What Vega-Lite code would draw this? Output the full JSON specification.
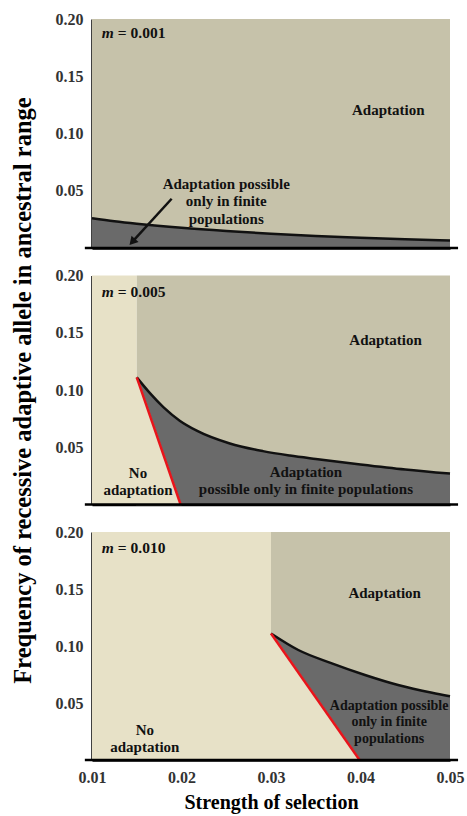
{
  "$schema": "https://vega.github.io/schema/vega-lite/v6.json",
  "background": "white",
  "padding": {"left": 9, "top": 11, "right": 10, "bottom": 5},
  "spacing": 27.5,
  "bounds": "flush",
  "config": {
    "view": {"stroke": null},
    "font": "Liberation Serif",
    "axis": {"domainColor": "black", "domainWidth": 2.5, "ticks": false, "grid": false, "labelFlush": false, "labelFont": "Liberation Serif", "labelFontWeight": "bold", "labelFontSize": 16, "labelColor": "#333333", "titleFont": "Liberation Serif", "titleFontWeight": "bold", "titleFontSize": 20, "titleColor": "black"},
    "text": {"font": "Liberation Serif", "fontWeight": "bold", "fontSize": 15, "color": "#111111"}
  },
  "datasets": {
    "rects": [
      {"panel": 1, "region": "adapt", "x1": 0.01, "x2": 0.05, "y1": 0, "y2": 0.2},
      {"panel": 2, "region": "none", "x1": 0.01, "x2": 0.015, "y1": 0, "y2": 0.2},
      {"panel": 2, "region": "adapt", "x1": 0.015, "x2": 0.05, "y1": 0, "y2": 0.2},
      {"panel": 3, "region": "none", "x1": 0.01, "x2": 0.03, "y1": 0, "y2": 0.2},
      {"panel": 3, "region": "adapt", "x1": 0.03, "x2": 0.05, "y1": 0, "y2": 0.2}
    ],
    "baseline": [
      {"x1": 0.0092, "x2": 0.0509, "y": 0}
    ],
    "curves": [
      {"panel": 1, "s": 0.01, "f": 0.026},
      {"panel": 1, "s": 0.0125, "f": 0.0234},
      {"panel": 1, "s": 0.015, "f": 0.0212},
      {"panel": 1, "s": 0.02, "f": 0.0176},
      {"panel": 1, "s": 0.025, "f": 0.0148},
      {"panel": 1, "s": 0.03, "f": 0.0125},
      {"panel": 1, "s": 0.035, "f": 0.0105},
      {"panel": 1, "s": 0.04, "f": 0.009},
      {"panel": 1, "s": 0.045, "f": 0.0076},
      {"panel": 1, "s": 0.05, "f": 0.0065},
      {"panel": 2, "s": 0.015, "f": 0.111},
      {"panel": 2, "s": 0.0165, "f": 0.097},
      {"panel": 2, "s": 0.018, "f": 0.0848},
      {"panel": 2, "s": 0.0198, "f": 0.0732},
      {"panel": 2, "s": 0.0217, "f": 0.0645},
      {"panel": 2, "s": 0.0254, "f": 0.0533},
      {"panel": 2, "s": 0.0291, "f": 0.0466},
      {"panel": 2, "s": 0.0321, "f": 0.0428},
      {"panel": 2, "s": 0.035, "f": 0.0398},
      {"panel": 2, "s": 0.04, "f": 0.035},
      {"panel": 2, "s": 0.045, "f": 0.0306},
      {"panel": 2, "s": 0.05, "f": 0.027},
      {"panel": 3, "s": 0.03, "f": 0.111},
      {"panel": 3, "s": 0.03305, "f": 0.0965},
      {"panel": 3, "s": 0.0368, "f": 0.0848},
      {"panel": 3, "s": 0.0405, "f": 0.0746},
      {"panel": 3, "s": 0.0442, "f": 0.0658},
      {"panel": 3, "s": 0.048, "f": 0.059},
      {"panel": 3, "s": 0.05, "f": 0.056}
    ],
    "reds": [
      {"panel": 2, "s": 0.015, "f": 0.111},
      {"panel": 2, "s": 0.0199, "f": 0},
      {"panel": 3, "s": 0.03, "f": 0.111},
      {"panel": 3, "s": 0.0399, "f": 0}
    ],
    "labels": [
      {"panel": 1, "s": 0.0431, "f": 0.1205, "text": "Adaptation"},
      {"panel": 1, "s": 0.025, "f": 0.0559, "text": "Adaptation possible\nonly in finite\npopulations"},
      {"panel": 2, "s": 0.0428, "f": 0.144, "text": "Adaptation"},
      {"panel": 2, "s": 0.01514, "f": 0.0271, "text": "No\nadaptation"},
      {"panel": 2, "s": 0.0339, "f": 0.0288, "text": "Adaptation\npossible only in finite populations"},
      {"panel": 3, "s": 0.0427, "f": 0.1465, "text": "Adaptation"},
      {"panel": 3, "s": 0.0159, "f": 0.0263, "text": "No\nadaptation"},
      {"panel": 3, "s": 0.0432, "f": 0.0474, "text": "Adaptation possible\nonly in finite\npopulations"}
    ],
    "mlabels": [
      {"panel": 1, "s": 0.0111, "f": 0.188, "m": "m", "rest": "= 0.001"},
      {"panel": 2, "s": 0.0111, "f": 0.186, "m": "m", "rest": "= 0.005"},
      {"panel": 3, "s": 0.0111, "f": 0.186, "m": "m", "rest": "= 0.010"}
    ],
    "arrow": [
      {"panel": 1, "s": 0.0189, "f": 0.043, "s2": 0.0145, "f2": 0.0053}
    ]
  },
  "vconcat": [
    {
      "width": 358, "height": 229,
      "layer": [
        {"data": {"name": "rects"}, "transform": [{"filter": "datum.panel == 1"}], "mark": {"type": "rect"},
         "encoding": {
           "x": {"field": "x1", "type": "quantitative", "scale": {"domain": [0.01, 0.05], "nice": false, "zero": false},
                 "axis": {"values": [0.01, 0.02, 0.03, 0.04, 0.05], "labels": false, "title": null}},
           "x2": {"field": "x2"},
           "y": {"field": "y1", "type": "quantitative", "scale": {"domain": [0, 0.2], "nice": false},
                 "axis": {"values": [0.05, 0.1, 0.15, 0.2], "format": ".2f", "title": null, "labelPadding": 9}},
           "y2": {"field": "y2"},
           "color": {"field": "region", "type": "nominal", "scale": {"domain": ["adapt", "none"], "range": ["#c6c2aa", "#e7e1c7"]}, "legend": null}
         }},
        {"data": {"name": "curves"}, "transform": [{"filter": "datum.panel == 1"}], "mark": {"type": "area", "color": "#6a6a6a", "interpolate": "monotone"},
         "encoding": {"x": {"field": "s", "type": "quantitative"}, "y": {"field": "f", "type": "quantitative"}}},
        {"data": {"name": "curves"}, "transform": [{"filter": "datum.panel == 1"}], "mark": {"type": "line", "color": "#111111", "strokeWidth": 2.5, "interpolate": "monotone"},
         "encoding": {"x": {"field": "s", "type": "quantitative"}, "y": {"field": "f", "type": "quantitative"}}},
        {"data": {"name": "baseline"}, "mark": {"type": "rule", "color": "black", "strokeWidth": 2.5},
         "encoding": {"x": {"field": "x1", "type": "quantitative"}, "x2": {"field": "x2"}, "y": {"field": "y", "type": "quantitative"}}},
        {"data": {"name": "arrow"}, "mark": {"type": "rule", "color": "#111111", "strokeWidth": 2.5},
         "encoding": {"x": {"field": "s", "type": "quantitative"}, "y": {"field": "f", "type": "quantitative"}, "x2": {"field": "s2"}, "y2": {"field": "f2"}}},
        {"data": {"name": "arrow"}, "mark": {"type": "point", "shape": "triangle-up", "filled": true, "color": "#111111", "size": 90, "angle": 222, "opacity": 1},
         "encoding": {"x": {"field": "s2", "type": "quantitative"}, "y": {"field": "f2", "type": "quantitative"}}},
        {"data": {"name": "labels"}, "transform": [{"filter": "datum.panel == 1"}], "mark": {"type": "text", "lineBreak": "\n", "lineHeight": 17.5, "align": "center", "baseline": "middle"},
         "encoding": {"x": {"field": "s", "type": "quantitative"}, "y": {"field": "f", "type": "quantitative"}, "text": {"field": "text"}}},
        {"data": {"name": "mlabels"}, "transform": [{"filter": "datum.panel == 1"}], "mark": {"type": "text", "fontStyle": "italic", "fontSize": 15.5, "align": "left", "baseline": "middle"},
         "encoding": {"x": {"field": "s", "type": "quantitative"}, "y": {"field": "f", "type": "quantitative"}, "text": {"field": "m"}}},
        {"data": {"name": "mlabels"}, "transform": [{"filter": "datum.panel == 1"}], "mark": {"type": "text", "fontSize": 15.5, "align": "left", "baseline": "middle", "dx": 16},
         "encoding": {"x": {"field": "s", "type": "quantitative"}, "y": {"field": "f", "type": "quantitative"}, "text": {"field": "rest"}}}
      ]
    },
    {
      "width": 358, "height": 229,
      "layer": [
        {"data": {"name": "rects"}, "transform": [{"filter": "datum.panel == 2"}], "mark": {"type": "rect"},
         "encoding": {
           "x": {"field": "x1", "type": "quantitative", "scale": {"domain": [0.01, 0.05], "nice": false, "zero": false},
                 "axis": {"values": [0.01, 0.02, 0.03, 0.04, 0.05], "labels": false, "title": null}},
           "x2": {"field": "x2"},
           "y": {"field": "y1", "type": "quantitative", "scale": {"domain": [0, 0.2], "nice": false},
                 "axis": {"values": [0.05, 0.1, 0.15, 0.2], "format": ".2f", "title": "Frequency of recessive adaptive allele in ancestral range", "titleFontSize": 24.5, "labelPadding": 9, "titlePadding": 20}},
           "y2": {"field": "y2"},
           "color": {"field": "region", "type": "nominal", "scale": {"domain": ["adapt", "none"], "range": ["#c6c2aa", "#e7e1c7"]}, "legend": null}
         }},
        {"data": {"name": "curves"}, "transform": [{"filter": "datum.panel == 2"}], "mark": {"type": "area", "color": "#6a6a6a", "interpolate": "monotone"},
         "encoding": {"x": {"field": "s", "type": "quantitative"}, "y": {"field": "f", "type": "quantitative"}}},
        {"data": {"name": "reds"}, "transform": [{"filter": "datum.panel == 2"}], "mark": {"type": "area", "color": "#e7e1c7", "stroke": "#e7e1c7", "strokeWidth": 1.5},
         "encoding": {"x": {"field": "s", "type": "quantitative"}, "y": {"field": "f", "type": "quantitative"}}},
        {"data": {"name": "curves"}, "transform": [{"filter": "datum.panel == 2"}], "mark": {"type": "line", "color": "#111111", "strokeWidth": 2.5, "interpolate": "monotone"},
         "encoding": {"x": {"field": "s", "type": "quantitative"}, "y": {"field": "f", "type": "quantitative"}}},
        {"data": {"name": "reds"}, "transform": [{"filter": "datum.panel == 2"}], "mark": {"type": "line", "color": "#e8141b", "strokeWidth": 2.5},
         "encoding": {"x": {"field": "s", "type": "quantitative"}, "y": {"field": "f", "type": "quantitative"}}},
        {"data": {"name": "baseline"}, "mark": {"type": "rule", "color": "black", "strokeWidth": 2.5},
         "encoding": {"x": {"field": "x1", "type": "quantitative"}, "x2": {"field": "x2"}, "y": {"field": "y", "type": "quantitative"}}},
        {"data": {"name": "labels"}, "transform": [{"filter": "datum.panel == 2"}], "mark": {"type": "text", "lineBreak": "\n", "lineHeight": 17, "align": "center", "baseline": "middle"},
         "encoding": {"x": {"field": "s", "type": "quantitative"}, "y": {"field": "f", "type": "quantitative"}, "text": {"field": "text"}}},
        {"data": {"name": "mlabels"}, "transform": [{"filter": "datum.panel == 2"}], "mark": {"type": "text", "fontStyle": "italic", "fontSize": 15.5, "align": "left", "baseline": "middle"},
         "encoding": {"x": {"field": "s", "type": "quantitative"}, "y": {"field": "f", "type": "quantitative"}, "text": {"field": "m"}}},
        {"data": {"name": "mlabels"}, "transform": [{"filter": "datum.panel == 2"}], "mark": {"type": "text", "fontSize": 15.5, "align": "left", "baseline": "middle", "dx": 16},
         "encoding": {"x": {"field": "s", "type": "quantitative"}, "y": {"field": "f", "type": "quantitative"}, "text": {"field": "rest"}}}
      ]
    },
    {
      "width": 358, "height": 228,
      "layer": [
        {"data": {"name": "rects"}, "transform": [{"filter": "datum.panel == 3"}], "mark": {"type": "rect"},
         "encoding": {
           "x": {"field": "x1", "type": "quantitative", "scale": {"domain": [0.01, 0.05], "nice": false, "zero": false},
                 "axis": {"values": [0.01, 0.02, 0.03, 0.04, 0.05], "format": ".2f", "title": "Strength of selection", "labelPadding": 9, "titlePadding": 7}},
           "x2": {"field": "x2"},
           "y": {"field": "y1", "type": "quantitative", "scale": {"domain": [0, 0.2], "nice": false},
                 "axis": {"values": [0.05, 0.1, 0.15, 0.2], "format": ".2f", "title": null, "labelPadding": 9}},
           "y2": {"field": "y2"},
           "color": {"field": "region", "type": "nominal", "scale": {"domain": ["adapt", "none"], "range": ["#c6c2aa", "#e7e1c7"]}, "legend": null}
         }},
        {"data": {"name": "curves"}, "transform": [{"filter": "datum.panel == 3"}], "mark": {"type": "area", "color": "#6a6a6a", "interpolate": "monotone"},
         "encoding": {"x": {"field": "s", "type": "quantitative"}, "y": {"field": "f", "type": "quantitative"}}},
        {"data": {"name": "reds"}, "transform": [{"filter": "datum.panel == 3"}], "mark": {"type": "area", "color": "#e7e1c7", "stroke": "#e7e1c7", "strokeWidth": 1.5},
         "encoding": {"x": {"field": "s", "type": "quantitative"}, "y": {"field": "f", "type": "quantitative"}}},
        {"data": {"name": "curves"}, "transform": [{"filter": "datum.panel == 3"}], "mark": {"type": "line", "color": "#111111", "strokeWidth": 2.5, "interpolate": "monotone"},
         "encoding": {"x": {"field": "s", "type": "quantitative"}, "y": {"field": "f", "type": "quantitative"}}},
        {"data": {"name": "reds"}, "transform": [{"filter": "datum.panel == 3"}], "mark": {"type": "line", "color": "#e8141b", "strokeWidth": 2.5},
         "encoding": {"x": {"field": "s", "type": "quantitative"}, "y": {"field": "f", "type": "quantitative"}}},
        {"data": {"name": "baseline"}, "mark": {"type": "rule", "color": "black", "strokeWidth": 2.5},
         "encoding": {"x": {"field": "x1", "type": "quantitative"}, "x2": {"field": "x2"}, "y": {"field": "y", "type": "quantitative"}}},
        {"data": {"name": "labels"}, "transform": [{"filter": "datum.panel == 3 && indexof(datum.text, 'possible') < 0"}], "mark": {"type": "text", "lineBreak": "\n", "lineHeight": 16.5, "align": "center", "baseline": "middle"},
         "encoding": {"x": {"field": "s", "type": "quantitative"}, "y": {"field": "f", "type": "quantitative"}, "text": {"field": "text"}}},
        {"data": {"name": "labels"}, "transform": [{"filter": "datum.panel == 3 && indexof(datum.text, 'possible') >= 0"}], "mark": {"type": "text", "fontSize": 14, "lineBreak": "\n", "lineHeight": 16.5, "align": "center", "baseline": "middle"},
         "encoding": {"x": {"field": "s", "type": "quantitative"}, "y": {"field": "f", "type": "quantitative"}, "text": {"field": "text"}}},
        {"data": {"name": "mlabels"}, "transform": [{"filter": "datum.panel == 3"}], "mark": {"type": "text", "fontStyle": "italic", "fontSize": 15.5, "align": "left", "baseline": "middle"},
         "encoding": {"x": {"field": "s", "type": "quantitative"}, "y": {"field": "f", "type": "quantitative"}, "text": {"field": "m"}}},
        {"data": {"name": "mlabels"}, "transform": [{"filter": "datum.panel == 3"}], "mark": {"type": "text", "fontSize": 15.5, "align": "left", "baseline": "middle", "dx": 16},
         "encoding": {"x": {"field": "s", "type": "quantitative"}, "y": {"field": "f", "type": "quantitative"}, "text": {"field": "rest"}}}
      ]
    }
  ]
}
